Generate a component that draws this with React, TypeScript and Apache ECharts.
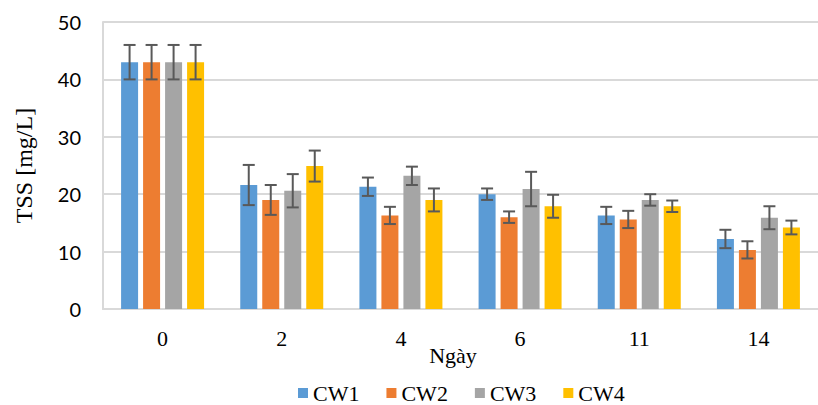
import React, { useEffect, useRef } from "react";
import * as echarts from "echarts";

const days = ["0", "2", "4", "6", "11", "14"];
const seriesNames = ["CW1", "CW2", "CW3", "CW4"];
const colors = ["#5B9BD5", "#ED7D31", "#A5A5A5", "#FFC000"];
const cw1 = [43, 21.6, 21.3, 20.0, 16.3, 12.2];
const cw2 = [43, 19.0, 16.3, 16.0, 15.6, 10.3];
const cw3 = [43, 20.6, 23.2, 20.9, 19.0, 15.9];
const cw4 = [43, 24.9, 19.0, 17.9, 17.9, 14.2];
const cw1Err = [3, 3.5, 1.6, 1.0, 1.5, 1.6];
const cw2Err = [3, 2.6, 1.5, 1.0, 1.5, 1.5];
const cw3Err = [3, 2.9, 1.6, 3.0, 1.0, 2.0];
const cw4Err = [3, 2.7, 2.0, 2.0, 1.0, 1.2];
const yTicks = [0, 10, 20, 30, 40, 50];

const means = [cw1, cw2, cw3, cw4];
const errs = [cw1Err, cw2Err, cw3Err, cw4Err];

const BAR_W = 17;
const BAR_GAP = 5;

export default function App() {
  const ref = useRef<HTMLDivElement>(null);
  useEffect(() => {
    if (!ref.current) return;
    const chart = echarts.init(ref.current, null, { renderer: "svg" });
    const barSeries = seriesNames.map((name, i) => ({
      type: "bar",
      name,
      data: means[i],
      barWidth: BAR_W,
      barGap: ((BAR_GAP / BAR_W) * 100).toFixed(1) + "%",
      itemStyle: { color: colors[i] },
      z: 2,
    }));
    const errSeries = seriesNames.map((name, i) => ({
      type: "custom",
      name: name + " err",
      data: means[i].map((m, j) => [j, m, errs[i][j]]),
      encode: { x: 0, y: 1 },
      z: 5,
      renderItem: (params: any, api: any) => {
        const xi = api.value(0);
        const m = api.value(1);
        const e = api.value(2);
        const hi = api.coord([xi, m + e]);
        const lo = api.coord([xi, m - e]);
        const off = (i - 1.5) * (BAR_W + BAR_GAP);
        const x = hi[0] + off;
        const cap = 6;
        const st = { stroke: "#595959", lineWidth: 2 };
        return {
          type: "group",
          children: [
            { type: "line", shape: { x1: x, y1: hi[1], x2: x, y2: lo[1] }, style: st },
            { type: "line", shape: { x1: x - cap, y1: hi[1], x2: x + cap, y2: hi[1] }, style: st },
            { type: "line", shape: { x1: x - cap, y1: lo[1], x2: x + cap, y2: lo[1] }, style: st },
          ],
        };
      },
    }));
    chart.setOption({
      animation: false,
      backgroundColor: "#ffffff",
      grid: { left: 103, top: 22, width: 727, height: 287, containLabel: false },
      legend: {
        data: seriesNames,
        left: 293,
        top: 377,
        icon: "rect",
        itemWidth: 10,
        itemHeight: 10,
        itemGap: 27,
        textStyle: { fontFamily: "Liberation Serif", fontSize: 22, color: "#000" },
      },
      xAxis: {
        type: "category",
        data: days,
        axisLine: { show: true, lineStyle: { color: "#d9d9d9", width: 2 } },
        axisTick: { show: false },
        axisLabel: { margin: 18, fontFamily: "Liberation Serif", fontSize: 22, color: "#000" },
      },
      yAxis: {
        type: "value",
        min: yTicks[0],
        max: yTicks[yTicks.length - 1],
        interval: 10,
        name: "TSS [mg/L]",
        nameLocation: "middle",
        nameRotate: 90,
        nameGap: 67,
        nameTextStyle: { fontFamily: "Liberation Serif", fontSize: 24, color: "#000" },
        axisLine: { show: true, lineStyle: { color: "#d9d9d9", width: 2 } },
        axisTick: { show: false },
        axisLabel: { margin: 22, fontFamily: "Lato", fontSize: 20, color: "#000" },
        splitLine: { lineStyle: { color: "#d9d9d9", width: 2 } },
      },
      graphic: [
        {
          type: "text",
          x: 453,
          y: 355,
          style: {
            text: "Ngày",
            font: "22px 'Liberation Serif'",
            fill: "#000",
            align: "center",
            verticalAlign: "middle",
          },
        },
      ],
      series: [...barSeries, ...errSeries],
    });
    return () => chart.dispose();
  }, []);
  return <div ref={ref} style={{ width: 818, height: 405, position: "absolute", left: 0, top: 0 }} />;
}
